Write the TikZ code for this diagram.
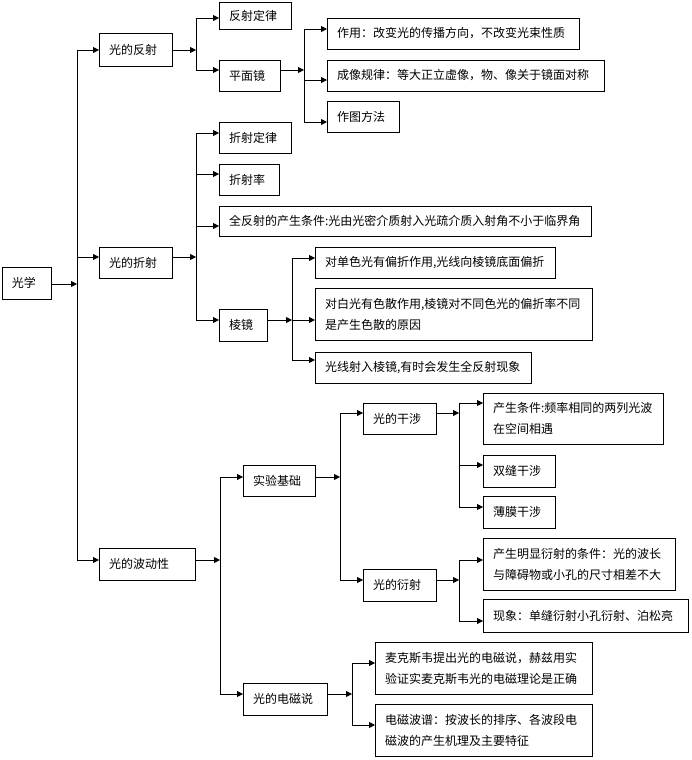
\documentclass[tikz,border=0pt]{standalone}
\usepackage{fontspec}
\setmainfont{Noto Sans CJK SC}
\usetikzlibrary{arrows.meta}
\newcommand{\ndbox}[7]{%
  \pgfmathsetmacro{\ndboxtw}{#4-20}%
  \node[box, text width=\ndboxtw pt, minimum height=#5pt] (#1) at (#2,#3) {#7};
  \coordinate (#1-in) at (#2,#6);
  \coordinate (#1-out) at ({#2+#4},#6);
}
\begin{document}
\begin{tikzpicture}[x=1pt,y=-1pt,
  box/.style={draw, line width=0.8pt, anchor=north west, inner xsep=10pt, inner ysep=0pt, outer sep=0pt, align=left, font=\fontsize{12}{21}\selectfont},
  conn/.style={line width=0.8pt},
  arr/.style={conn, -{Triangle[length=6pt,width=6pt]}}]
\useasboundingbox (0,0) rectangle (691,760);

\ndbox{gx}{2}{267}{49}{32}{284}{光学}
\ndbox{fs}{99}{33}{73}{33}{50}{光的反射}
\ndbox{zs}{99}{247}{73}{31}{257}{光的折射}
\ndbox{bd}{99}{548}{96}{32}{560}{光的波动性}
\ndbox{fsdl}{219}{2}{72}{27}{18}{反射定律}
\ndbox{pmj}{219}{60}{61}{31}{70}{平面镜}
\ndbox{zy}{327}{18}{252}{31}{29}{作用：改变光的传播方向，不改变光束性质}
\ndbox{cx}{327}{60}{277}{31}{80}{成像规律：等大正立虚像，物、像关于镜面对称}
\ndbox{ztff}{327}{101}{72}{31}{122}{作图方法}
\ndbox{zsdl}{219}{122}{72}{31}{133}{折射定律}
\ndbox{zsl}{219}{164}{60}{31}{174}{折射率}
\ndbox{qfs}{219}{206}{372}{30}{226}{全反射的产生条件:光由光密介质射入光疏介质入射角不小于临界角}
\ndbox{lj}{219}{309}{48}{32}{320}{棱镜}
\ndbox{ds}{315}{247}{240}{31}{258}{对单色光有偏折作用,光线向棱镜底面偏折}
\ndbox{db}{315}{288}{277}{52}{320}{对白光有色散作用,棱镜对不同色光的偏折率不同\\是产生色散的原因}
\ndbox{gxsr}{315}{352}{216}{31}{360}{光线射入棱镜,有时会发生全反射现象}
\ndbox{syjc}{243}{465}{72}{31}{477}{实验基础}
\ndbox{dcs}{243}{683}{84}{32}{694}{光的电磁说}
\ndbox{gs}{363}{403}{73}{31}{413}{光的干涉}
\ndbox{ys}{363}{569}{73}{32}{580}{光的衍射}
\ndbox{cstj}{483}{393}{180}{51}{403}{产生条件:频率相同的两列光波\\在空间相遇}
\ndbox{sf}{483}{455}{72}{32}{465}{双缝干涉}
\ndbox{bm}{483}{496}{72}{32}{507}{薄膜干涉}
\ndbox{cmx}{483}{538}{192}{52}{560}{产生明显衍射的条件：光的波长\\与障碍物或小孔的尺寸相差不大}
\ndbox{xx}{483}{599}{205}{33}{621}{现象：单缝衍射小孔衍射、泊松亮}
\ndbox{mks}{375}{642}{217}{52}{663}{麦克斯韦提出光的电磁说，赫兹用实\\验证实麦克斯韦光的电磁理论是正确}
\ndbox{dcbp}{375}{704}{217}{52}{725}{电磁波谱：按波长的排序、各波段电\\磁波的产生机理及主要特征}

\coordinate (B1) at (77,0);
\coordinate (B2) at (196,0);
\coordinate (B3) at (304,0);
\coordinate (B4) at (196,0);
\coordinate (B5) at (292,0);
\coordinate (B6) at (220,0);
\coordinate (B7) at (340,0);
\coordinate (B8) at (459,0);
\coordinate (B9) at (459,0);
\coordinate (B10) at (352,0);

% level 1
\draw[arr] (gx-out) -- (gx-out -| B1);
\draw[conn] (fs-in -| B1) -- (bd-in -| B1);
\foreach \n in {fs,zs,bd} \draw[arr] (\n-in -| B1) -- (\n-in);

% reflection
\draw[arr] (fs-out) -- (fs-out -| B2);
\draw[conn] (fsdl-in -| B2) -- (pmj-in -| B2);
\foreach \n in {fsdl,pmj} \draw[arr] (\n-in -| B2) -- (\n-in);

\draw[arr] (pmj-out) -- (pmj-out -| B3);
\draw[conn] (zy-in -| B3) -- (ztff-in -| B3);
\foreach \n in {zy,cx,ztff} \draw[arr] (\n-in -| B3) -- (\n-in);

% refraction
\draw[arr] (zs-out) -- (zs-out -| B4);
\draw[conn] (zsdl-in -| B4) -- (lj-in -| B4);
\foreach \n in {zsdl,zsl,qfs,lj} \draw[arr] (\n-in -| B4) -- (\n-in);

\draw[arr] (lj-out) -- (lj-out -| B5);
\draw[conn] (ds-in -| B5) -- (gxsr-in -| B5);
\foreach \n in {ds,db,gxsr} \draw[arr] (\n-in -| B5) -- (\n-in);

% wave
\draw[arr] (bd-out) -- (bd-out -| B6);
\draw[conn] (syjc-in -| B6) -- (dcs-in -| B6);
\foreach \n in {syjc,dcs} \draw[arr] (\n-in -| B6) -- (\n-in);

\draw[arr] (syjc-out) -- (syjc-out -| B7);
\draw[conn] (gs-in -| B7) -- (ys-in -| B7);
\foreach \n in {gs,ys} \draw[arr] (\n-in -| B7) -- (\n-in);

\draw[arr] (gs-out) -- (gs-out -| B8);
\draw[conn] (cstj-in -| B8) -- (bm-in -| B8);
\foreach \n in {cstj,sf,bm} \draw[arr] (\n-in -| B8) -- (\n-in);

\draw[arr] (ys-out) -- (ys-out -| B9);
\draw[conn] (cmx-in -| B9) -- (xx-in -| B9);
\foreach \n in {cmx,xx} \draw[arr] (\n-in -| B9) -- (\n-in);

\draw[arr] (dcs-out) -- (dcs-out -| B10);
\draw[conn] (mks-in -| B10) -- (dcbp-in -| B10);
\foreach \n in {mks,dcbp} \draw[arr] (\n-in -| B10) -- (\n-in);
\end{tikzpicture}
\end{document}
